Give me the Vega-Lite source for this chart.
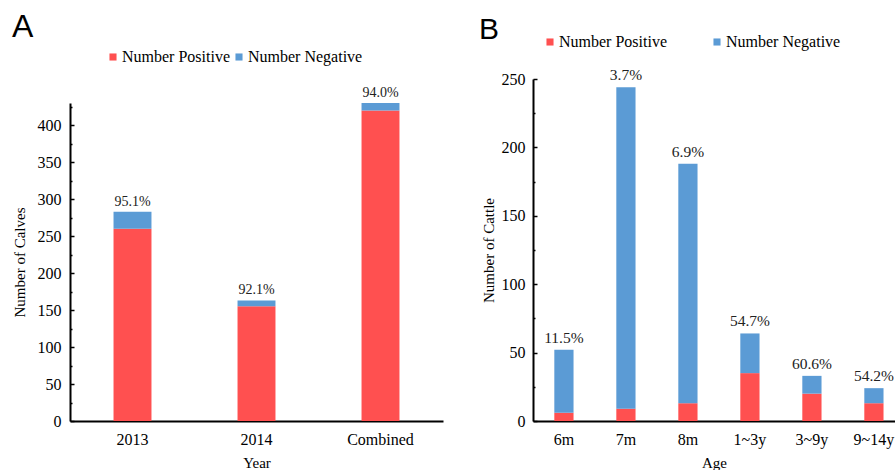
{
  "$schema": "https://vega.github.io/schema/vega-lite/v6.json",
  "padding": {"left": 12, "top": 11, "right": 0, "bottom": 0},
  "background": "white",
  "spacing": 36,
  "config": {
    "view": {"stroke": null},
    "font": "Liberation Serif",
    "axis": {"grid": false, "domainColor": "#000", "domainWidth": 2, "labelColor": "#000", "labelFontSize": 16, "labelFont": "Liberation Serif", "titleFont": "Liberation Serif", "titleFontSize": 15, "titleFontWeight": "normal", "titleColor": "#000", "tickColor": "#000", "tickWidth": 1.5},
    "legend": {"orient": "none", "direction": "horizontal", "title": null, "symbolType": "square", "symbolSize": 50, "symbolStrokeWidth": 0, "labelFont": "Liberation Serif", "labelFontSize": 16, "labelColor": "#000", "labelOffset": 1},
    "title": {"font": "Liberation Sans", "fontWeight": "normal", "color": "#000", "anchor": "start", "baseline": "alphabetic", "frame": "group"}
  },
  "datasets": {
    "a_bars": [
      {"year": "2013", "status": "Number Positive", "count": 260},
      {"year": "2013", "status": "Number Negative", "count": 23},
      {"year": "2014", "status": "Number Positive", "count": 155},
      {"year": "2014", "status": "Number Negative", "count": 8},
      {"year": "Combined", "status": "Number Positive", "count": 420},
      {"year": "Combined", "status": "Number Negative", "count": 10}
    ],
    "a_labels": [
      {"year": "2013", "total": 283, "label": "95.1%"},
      {"year": "2014", "total": 163, "label": "92.1%"},
      {"year": "Combined", "total": 430, "label": "94.0%"}
    ],
    "b_bars": [
      {"age": "6m", "status": "Number Positive", "count": 6},
      {"age": "6m", "status": "Number Negative", "count": 46},
      {"age": "7m", "status": "Number Positive", "count": 9},
      {"age": "7m", "status": "Number Negative", "count": 235},
      {"age": "8m", "status": "Number Positive", "count": 13},
      {"age": "8m", "status": "Number Negative", "count": 175},
      {"age": "1~3y", "status": "Number Positive", "count": 35},
      {"age": "1~3y", "status": "Number Negative", "count": 29},
      {"age": "3~9y", "status": "Number Positive", "count": 20},
      {"age": "3~9y", "status": "Number Negative", "count": 13},
      {"age": "9~14y", "status": "Number Positive", "count": 13},
      {"age": "9~14y", "status": "Number Negative", "count": 11}
    ],
    "b_labels": [
      {"age": "6m", "total": 52, "label": "11.5%"},
      {"age": "7m", "total": 244, "label": "3.7%"},
      {"age": "8m", "total": 188, "label": "6.9%"},
      {"age": "1~3y", "total": 64, "label": "54.7%"},
      {"age": "3~9y", "total": 33, "label": "60.6%"},
      {"age": "9~14y", "total": 24, "label": "54.2%"}
    ]
  },
  "hconcat": [
    {
      "title": {"text": "A", "dx": -58, "fontSize": 32, "offset": 5},
      "width": 373,
      "height": 342,
      "resolve": {"axis": {"y": "independent"}},
      "layer": [
        {
          "data": {"name": "a_bars"},
          "mark": {"type": "bar"},
          "encoding": {
            "x": {"field": "year", "type": "nominal", "sort": ["2013", "2014", "Combined"], "scale": {"paddingInner": 0.694, "paddingOuter": 0.351, "align": 0.5}, "axis": {"title": "Year", "labelAngle": 0, "ticks": false, "tickSize": 0, "labelPadding": 10, "titlePadding": 8}},
            "y": {"field": "count", "type": "quantitative", "stack": "zero", "scale": {"domain": [0, 430], "nice": false, "range": [342, 24]}, "axis": {"title": "Number of Calves", "values": [0, 50, 100, 150, 200, 250, 300, 350, 400], "ticks": true, "tickSize": -4, "labelPadding": 13, "titlePadding": 10}},
            "color": {"field": "status", "type": "nominal", "scale": {"domain": ["Number Positive", "Number Negative"], "range": ["#FF5050", "#5B9BD5"]}, "legend": {"legendX": 35, "legendY": -30, "columnPadding": 1}},
            "order": {"field": "status", "sort": "descending"}
          }
        },
        {
          "data": {"name": "a_labels"},
          "mark": {"type": "text", "baseline": "bottom", "dy": -3, "fontSize": 14, "color": "#222", "font": "Liberation Serif"},
          "encoding": {
            "x": {"field": "year", "type": "nominal", "sort": ["2013", "2014", "Combined"]},
            "y": {"field": "total", "type": "quantitative", "axis": {"orient": "left", "values": [25, 75, 125, 175, 225, 275, 325, 375, 425], "labels": false, "domain": false, "ticks": true, "tickSize": -2, "title": null}},
            "text": {"field": "label"}
          }
        }
      ]
    },
    {
      "title": {"text": "B", "dx": -54, "fontSize": 30, "offset": -11},
      "width": 362,
      "height": 342,
      "resolve": {"axis": {"y": "independent"}},
      "layer": [
        {
          "data": {"name": "b_bars"},
          "mark": {"type": "bar"},
          "encoding": {
            "x": {"field": "age", "type": "nominal", "sort": ["6m", "7m", "8m", "1~3y", "3~9y", "9~14y"], "scale": {"paddingInner": 0.69, "paddingOuter": 0.2645, "align": 0.65}, "axis": {"title": "Age", "labelAngle": 0, "ticks": false, "tickSize": 0, "labelPadding": 10, "titlePadding": 8}},
            "y": {"field": "count", "type": "quantitative", "stack": "zero", "scale": {"domain": [0, 250], "nice": false}, "axis": {"title": "Number of Cattle", "values": [0, 50, 100, 150, 200, 250], "ticks": true, "tickSize": -4, "labelPadding": 12, "titlePadding": 5}},
            "color": {"field": "status", "type": "nominal", "scale": {"domain": ["Number Positive", "Number Negative"], "range": ["#FF5050", "#5B9BD5"]}, "legend": {"legendX": 9, "legendY": -45, "columnPadding": 42}},
            "order": {"field": "status", "sort": "descending"}
          }
        },
        {
          "data": {"name": "b_labels"},
          "mark": {"type": "text", "baseline": "bottom", "dy": -4, "fontSize": 15.5, "color": "#222", "font": "Liberation Serif"},
          "encoding": {
            "x": {"field": "age", "type": "nominal", "sort": ["6m", "7m", "8m", "1~3y", "3~9y", "9~14y"]},
            "y": {"field": "total", "type": "quantitative", "axis": {"orient": "left", "values": [25, 75, 125, 175, 225], "labels": false, "domain": false, "ticks": true, "tickSize": -2, "title": null}},
            "text": {"field": "label"}
          }
        }
      ]
    }
  ],
  "resolve": {"legend": {"color": "independent"}}
}
